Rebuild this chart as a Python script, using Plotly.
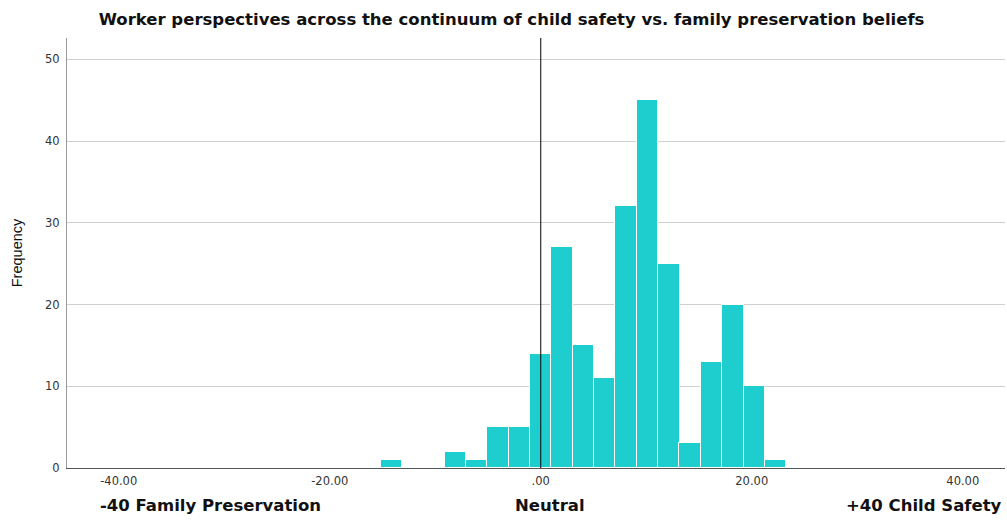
import plotly.graph_objects as go

# Histogram bins (centers) and frequencies
bin_centers = [-14.16, -12.14, -10.12, -8.09, -6.07, -4.05, -2.02, 0.0, 2.02, 4.05,
               6.07, 8.09, 10.12, 12.14, 14.16, 16.19, 18.21, 20.23, 22.26]
frequencies = [1, 0, 0, 2, 1, 5, 5, 14, 27, 15, 11, 32, 45, 25, 3, 13, 20, 10, 1]
bin_width = 2.023

x_tick_vals = [-40, -20, 0, 20, 40]
x_tick_text = ["-40.00", "-20.00", ".00", "20.00", "40.00"]
y_tick_vals = [0, 10, 20, 30, 40, 50]
neutral_value = 0

title_text = "Worker perspectives across the continuum of child safety vs. family preservation beliefs"
scale_labels = ["-40 Family Preservation", "Neutral", "+40 Child Safety"]

FONT = "DejaVu Sans, Liberation Sans, Arial, sans-serif"

fig = go.Figure()
fig.add_trace(go.Bar(
    x=bin_centers, y=frequencies, width=[bin_width] * len(bin_centers),
    marker=dict(color="#1ECECE", line=dict(color="white", width=1)),
    showlegend=False,
))

fig.add_shape(type="line", x0=neutral_value, x1=neutral_value, xref="x",
              y0=0, y1=1, yref="paper", line=dict(color="black", width=1))

fig.update_layout(
    width=1007, height=520,
    margin=dict(l=67, r=2, t=38, b=52),
    paper_bgcolor="white", plot_bgcolor="white",
    font=dict(family=FONT, color="#222"),
    title=dict(text="<b>" + title_text + "</b>", x=0.508, xanchor="center",
               xref="container", y=0.963, yanchor="middle",
               font=dict(size=16.5, color="#111")),
    bargap=0,
    xaxis=dict(range=[-44.9, 44.0], tickvals=x_tick_vals, ticktext=x_tick_text,
               tickfont=dict(size=11.5, color="#333"), showgrid=False, zeroline=False,
               showline=True, linecolor="#555", linewidth=1, ticks="",
               ticklabelstandoff=2),
    yaxis=dict(range=[0, 52.6], tickvals=y_tick_vals, tickfont=dict(size=11.5, color="#333"),
               showgrid=True, gridcolor="#d0d0d0", gridwidth=1, zeroline=False,
               showline=True, linecolor="#999", linewidth=1, ticks="",
               ticklabelstandoff=4,
               title=dict(text="Frequency",
                          font=dict(family="Liberation Sans, Arial, sans-serif",
                                    size=14.5, color="#111"),
                          standoff=18)),
)

ann_x = [0.033, 0.515, 0.999]
ann_anchor = ["left", "center", "right"]
for txt, xp, xa in zip(scale_labels, ann_x, ann_anchor):
    fig.add_annotation(text="<b>" + txt + "</b>", x=xp, xref="paper", xanchor=xa,
                       y=-0.088, yref="paper", yanchor="middle", showarrow=False,
                       font=dict(size=16.5, color="#111"))

fig.write_html("out.html", config={"displayModeBar": False},
               post_script="document.body.style.margin='0';document.body.style.overflow='hidden';")
